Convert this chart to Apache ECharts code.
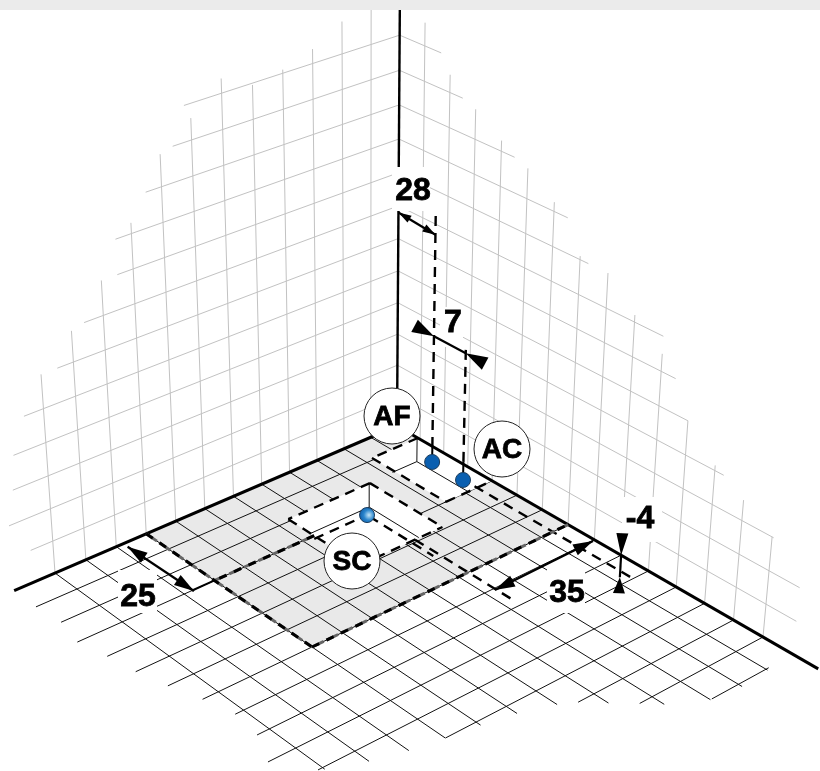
<!DOCTYPE html>
<html><head><meta charset="utf-8"><style>html,body{margin:0;background:#fff}#c{width:820px;height:771px}</style>
<script src="https://cdn.jsdelivr.net/npm/echarts@6/dist/echarts.min.js"></script></head><body><div id="c"></div>
<script>
// ---- data (model units: grid cells on floor u,v and height w) ----
const floorCalibration=[[0,0,397,426],[12,0,55,573],[0,14,763,637],[9,7,312,647]];
const verticalVanish=[366,5000], verticalScale=-0.00656;
const leftWallRowEnd=[12.7,13.3,13.1,13.0,12.6,11.5,10.6,9.5,9.5,8.5,7.6,7.2];      // w=1..12 → u
const leftWallColTop=[14,12.9,12.4,12.1,11.95,12.4,11.6,10.9,9.3,8.0,6.9,6.0];       // u=1..12 → w
const rightWallRowEnd=[15,15,14.05,12.3,11,10.5,10,7.3,6.5,4.5,2.5,1.64];            // w=1..12 → v
const rightWallColTop=[12.65,11.5,10.85,10.3,9.86,9.26,8.1,8.0,7.2,6.5,5.0,4.15,3.6,3.0]; // v=1..14 → w
const floorRowStart=[0,5.6,5.6,0,0,0,0,0,0,0,0,0,0,0];                                // v=1..14 → u
const floorRowEnd=[13.3,13.21,13.41,13.2,13.05,12.8,12.49,12.26,12.38,12.85,12.14,9.0,5.54,4.43]; // v=1..14 → u
const floorColEnd=[15.05,15.12,15.0,14.41,13.5,12.74,12.38,12.16,11.99,11.81,11.52,11.08];        // u=1..12 → v
const lastFloorRow=[15,0.9,2.95];
const axisEnds={u:13.3,v:15.82,w:14};
const shaded={u:9,v:7};
const holeSC={u0:2.67,u1:5.6,v0:1.9,v1:4.9};
const holeAF={u0:0,u1:1.73,v0:0.9,v1:4.0};
const depth=-0.8;
const dotSC=[2.99,2.15],dotAF=[-0.32,1.17],dotAC=[-0.32,2.48];
const dimensionTexts=['28','7','25','35','-4'];
const dimensionAt=[[413,190],[453,322],[138,596],[567,592],[640,518]];
const dimensionBox=[[392,167,38,44],[440,307,23,40],[118,570,39,43],[547,568,38,45],[622,497,40,45]];
const circleTexts=['AF','AC','SC'];
const circleAt=[[392,416],[502,449],[352,561]];

// ---- projection ----
function solve(A,b){const n=b.length;A=A.map((r,i)=>[...r,b[i]]);for(let i=0;i<n;i++){let p=i;for(let r=i;r<n;r++)if(Math.abs(A[r][i])>Math.abs(A[p][i]))p=r;[A[i],A[p]]=[A[p],A[i]];for(let r=0;r<n;r++)if(r!=i){const f=A[r][i]/A[i][i];for(let c=i;c<=n;c++)A[r][c]-=f*A[i][c];}}return A.map((r,i)=>r[n]/r[i]);}
const A8=[],b8=[];floorCalibration.forEach(([u,v,x,y])=>{A8.push([u,v,1,0,0,0,-u*x,-v*x]);b8.push(x);A8.push([0,0,0,u,v,1,-u*y,-v*y]);b8.push(y);});
const h=solve(A8,b8);
function P(u,v,w){w=w||0;const c=verticalScale*w,d=h[6]*u+h[7]*v+1+c;
 return [(h[0]*u+h[1]*v+h[2]+c*verticalVanish[0])/d,(h[3]*u+h[4]*v+h[5]+c*verticalVanish[1])/d];}
const S=(a,b)=>[...a,...b];

// ---- geometry from the model ----
const wallSegs=[];
leftWallRowEnd.forEach((e,i)=>wallSegs.push(S(P(0,0,i+1),P(e,0,i+1))));
leftWallColTop.forEach((t,i)=>wallSegs.push(S(P(i+1,0,0),P(i+1,0,t))));
rightWallRowEnd.forEach((e,i)=>wallSegs.push(S(P(0,0,i+1),P(0,e,i+1))));
rightWallColTop.forEach((t,i)=>wallSegs.push(S(P(0,i+1,0),P(0,i+1,t))));
const floorSegs=[];
floorRowEnd.forEach((e,i)=>floorSegs.push(S(P(floorRowStart[i],i+1),P(e,i+1))));
floorColEnd.forEach((e,i)=>floorSegs.push(S(P(i+1,0),P(i+1,e))));
floorSegs.push(S(P(lastFloorRow[1],lastFloorRow[0]),P(lastFloorRow[2],lastFloorRow[0])));
const quad=(u0,u1,v0,v1)=>[...P(u0,v0),...P(u1,v0),...P(u1,v1),...P(u0,v1)];
const edges=b=>[S(P(b.u0,b.v0),P(b.u1,b.v0)),S(P(b.u1,b.v0),P(b.u1,b.v1)),S(P(b.u1,b.v1),P(b.u0,b.v1))];
const innerSegs=[
 S(P(holeSC.u0,1.87,0),P(holeSC.u0,1.87,depth)),S(P(holeSC.u0,1.87,depth),P(4.83,1.87,depth)),S(P(holeSC.u0,1.87,depth),P(holeSC.u0,3.95,depth)),
 S(P(0,0.87,0),P(0,0.87,depth)),S(P(0,0.87,depth),P(0.93,0.87,depth)),S(P(0,0.87,depth),P(0,3.1,depth))];
const axisSegs=[S(P(0,0),P(axisEnds.u,0)),S(P(0,0),P(0,axisEnds.v))];
const zAxisSeg=[S(P(0,0),P(0,0,axisEnds.w))];
const holeDash=[...edges(holeAF),...edges(holeSC),S(P(holeSC.u0,holeSC.v0),P(holeSC.u0,holeSC.v1)),
 S(P(dotSC[0],dotSC[1]+0.1,depth),P(dotSC[0],4.9,depth)),S(P(4.9,dotSC[1],depth),P(dotSC[0]+0.15,dotSC[1],depth)),
 S(P(3.66,4.9),P(3.66,8.71)),S(P(0.57,3.9),P(0.57,9.96)),
 S(P(...dotAF,-0.3),P(...dotAF,7.15)),S(P(...dotAC,-0.2),P(...dotAC,3.6))];
const stems=[S(P(...dotAF,-0.6),P(...dotAF,-0.3)),S(P(...dotAC,-0.57),P(...dotAC,-0.2))];
const edgeSegs=[S(P(shaded.u,0),P(shaded.u,shaded.v)),S(P(shaded.u,shaded.v),P(0,shaded.v)),S(P(5.6,3),P(shaded.u,3))];
const solidDim=[S(P(shaded.u,3),P(9.74,3))];
const dim=[ // shaft segments
 {a:P(0,0,6.8),b:P(...dotAF,6.45),w:1.8,hl:13,hw:4,hlb:13,inward:false},
 {a:P(...dotAF,3.3),b:P(...dotAC,3.3),w:2,hl:22,hw:7,hlb:22,inward:true},
 {a:P(9.77,0.2),b:P(9.72,3.05),w:2.4,hl:20,hw:6,hlb:20,inward:false},
 {a:P(0.07,8.02),b:P(3.7,8.07),w:2.4,hl:20,hw:6,hlb:20,inward:false},
 {a:P(0,9,0),b:P(0,9,-0.7),w:2.2,hl:22,hw:6,hlb:16,inward:true}];
const dimSegs=dim.map(d=>S(d.a,d.b));
const heads=[];dim.forEach(d=>{
 const dx=d.b[0]-d.a[0],dy=d.b[1]-d.a[1],l=Math.hypot(dx,dy),ux=dx/l,uy=dy/l;
 const s=d.inward?-1:1; // direction from tip toward base
 heads.push([d.a[0],d.a[1],s*ux,s*uy,d.hl,d.hw]);heads.push([d.b[0],d.b[1],-s*ux,-s*uy,d.hlb,d.hw]);});
const dotsFlat=[P(...dotAF,depth),P(...dotAC,depth)];
const dotShiny=[P(...dotSC,depth)];

// ---- series helpers ----
const seg=(data,style,z)=>({type:'custom',coordinateSystem:'cartesian2d',clip:false,silent:true,z,data,animation:false,
 renderItem:(p,api)=>{const a=api.coord([api.value(0),api.value(1)]),b=api.coord([api.value(2),api.value(3)]);
  return {type:'line',shape:{x1:a[0],y1:a[1],x2:b[0],y2:b[1]},style:Object.assign({fill:null},style)};}});
const poly=(data,fill,z)=>({type:'custom',coordinateSystem:'cartesian2d',clip:false,silent:true,z,data,animation:false,
 renderItem:(p,api)=>{const pts=[0,2,4,6].map(i=>api.coord([api.value(i),api.value(i+1)]));
  return {type:'polygon',shape:{points:pts},style:{fill,stroke:null}};}});
const series=[
 seg(wallSegs,{stroke:'#c2c2c2',lineWidth:1},1),
 poly([quad(0,shaded.u,0,shaded.v)],'#e9e9e9',2),
 seg(floorSegs,{stroke:'#111',lineWidth:1},3),
 poly([quad(holeSC.u0,holeSC.u1,holeSC.v0,holeSC.v1),quad(holeAF.u0,holeAF.u1,holeAF.v0,holeAF.v1)],'#fff',4),
 seg(innerSegs,{stroke:'#111',lineWidth:1},5),
 seg(axisSegs,{stroke:'#000',lineWidth:3},6),
 seg(zAxisSeg,{stroke:'#000',lineWidth:2.4},6),
 seg(holeDash,{stroke:'#000',lineWidth:2.4,lineDash:[10,7]},7),
 seg(edgeSegs,{stroke:'#666',lineWidth:3,lineDash:[13,3]},7),
 seg(edgeSegs,{stroke:'#000',lineWidth:3,lineDash:[8,8]},7),
 seg(stems,{stroke:'#000',lineWidth:2},7),
 seg(solidDim,{stroke:'#000',lineWidth:2},7),
 {type:'custom',coordinateSystem:'cartesian2d',clip:false,silent:true,z:8,animation:false,data:dimensionBox,
  renderItem:(p,api)=>{const a=api.coord([api.value(0),api.value(1)]),b=api.coord([api.value(0)+api.value(2),api.value(1)+api.value(3)]);
   return {type:'rect',shape:{x:a[0],y:a[1],width:b[0]-a[0],height:b[1]-a[1]},style:{fill:'#fff'}};}},
 seg(dimSegs.map(s=>s),{stroke:'#000',lineWidth:2.2},9),
 {type:'custom',coordinateSystem:'cartesian2d',clip:false,silent:true,z:9,animation:false,data:heads,
  renderItem:(p,api)=>{const t=api.coord([api.value(0),api.value(1)]),ux=api.value(2),uy=api.value(3),L=api.value(4),W=api.value(5);
   return {type:'polygon',shape:{points:[t,[t[0]+ux*L-uy*W,t[1]+uy*L+ux*W],[t[0]+ux*L+uy*W,t[1]+uy*L-ux*W]]},style:{fill:'#000'}};}},
 {type:'scatter',z:10,silent:true,symbolSize:15,data:dotsFlat,animation:false,itemStyle:{opacity:1,color:'#0a5fb0',borderColor:'#1d3f60',borderWidth:1}},
 {type:'scatter',z:10,silent:true,symbolSize:15,data:dotShiny,animation:false,itemStyle:{opacity:1,color:{type:'radial',x:0.62,y:0.5,r:0.65,colorStops:[{offset:0,color:'#c4e6f8'},{offset:0.5,color:'#2a85cc'},{offset:1,color:'#0a58a6'}]},borderColor:'#1d3f60',borderWidth:1}},
 {type:'custom',coordinateSystem:'cartesian2d',clip:false,silent:true,z:11,animation:false,data:circleAt,
  renderItem:(p,api)=>{const c=api.coord([api.value(0),api.value(1)]);
   return {type:'group',children:[{type:'circle',shape:{cx:c[0],cy:c[1],r:28},style:{fill:'#fff',stroke:'#222',lineWidth:1}},
    {type:'text',x:c[0],y:c[1]+1,style:{text:circleTexts[p.dataIndex],font:'bold 28px "Liberation Sans"',fill:'#000',stroke:'#000',lineWidth:0.8,align:'center',verticalAlign:'middle'}}]};}},
 {type:'custom',coordinateSystem:'cartesian2d',clip:false,silent:true,z:12,animation:false,data:dimensionAt,
  renderItem:(p,api)=>{const c=api.coord([api.value(0),api.value(1)]);
   return {type:'text',x:c[0],y:c[1]+1,style:{text:dimensionTexts[p.dataIndex],font:'bold 32px "Liberation Sans"',fill:'#000',stroke:'#000',lineWidth:0.8,align:'center',verticalAlign:'middle'}};}},
];
const chart=echarts.init(document.getElementById('c'),null,{renderer:'canvas'});
chart.setOption({animation:false,backgroundColor:'#fff',
 grid:{left:0,right:0,top:0,bottom:0},
 xAxis:{type:'value',min:0,max:820,show:false},
 yAxis:{type:'value',min:0,max:771,inverse:true,show:false},
 graphic:[{type:'rect',z:100,shape:{x:0,y:0,width:820,height:10},style:{fill:'#ebebeb'}}],
 series});
</script></body></html>
